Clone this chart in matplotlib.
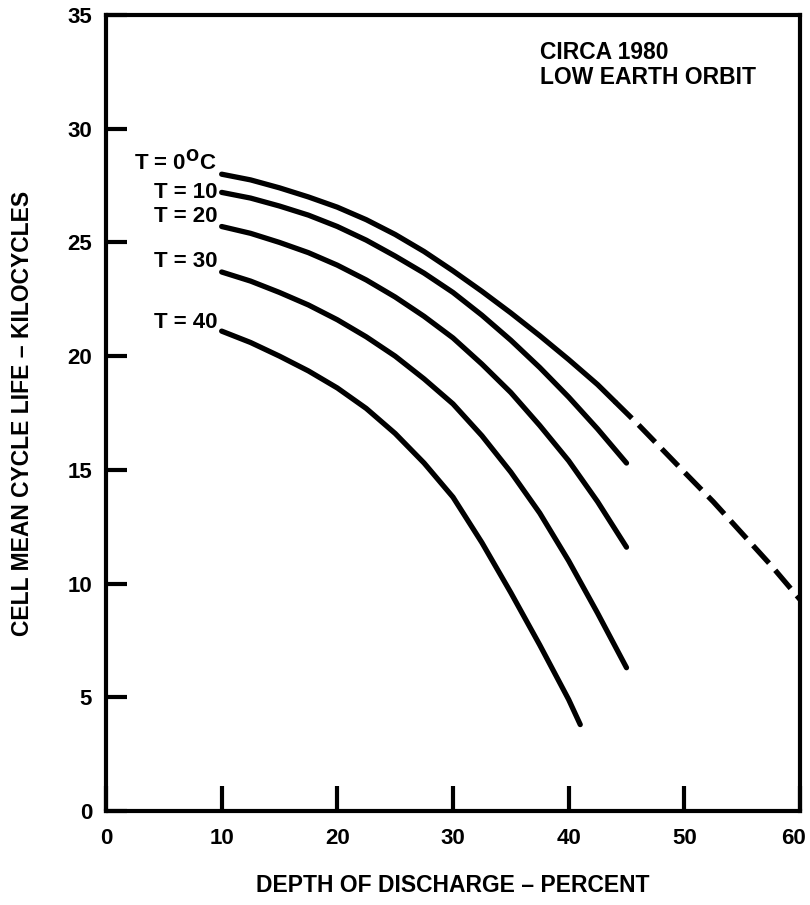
import matplotlib
matplotlib.use("Agg")
import matplotlib.pyplot as plt
import matplotlib.transforms as mtransforms

plt.rcParams["font.family"] = ["Liberation Sans", "DejaVu Sans"]
plt.rcParams["font.weight"] = "bold"

# values
dod = [10, 12.5, 15, 17.5, 20, 22.5, 25, 27.5, 30, 32.5, 35, 37.5, 40, 42.5, 45]

dod_0 = dod[:-1] + [44]
life_0 = [28.0, 27.75, 27.4, 27.0, 26.55, 26.0, 25.35, 24.6, 23.75, 22.85,
          21.9, 20.9, 19.85, 18.75, 18.0]
# extrapolated part, drawn dashed
dod_0_ext = [44, 46, 48, 50, 52.5, 55, 57.5, 60]
life_0_ext = [18.0, 17.0, 15.95, 14.9, 13.6, 12.2, 10.8, 9.3]

life_10 = [27.2, 26.95, 26.6, 26.2, 25.7, 25.1, 24.4, 23.65, 22.8, 21.8,
           20.7, 19.5, 18.2, 16.8, 15.3]
life_20 = [25.7, 25.4, 25.0, 24.55, 24.0, 23.35, 22.6, 21.75, 20.8, 19.65,
           18.4, 16.95, 15.4, 13.6, 11.6]
life_30 = [23.7, 23.3, 22.8, 22.25, 21.6, 20.85, 20.0, 19.0, 17.9, 16.5,
           14.9, 13.1, 11.0, 8.7, 6.3]

dod_40 = [10, 12.5, 15, 17.5, 20, 22.5, 25, 27.5, 30, 32.5, 35, 37.5, 40, 41]
life_40 = [21.1, 20.6, 20.0, 19.35, 18.6, 17.7, 16.6, 15.3, 13.8, 11.8,
           9.6, 7.3, 4.9, 3.8]

curve_labels = ["T = 0$^{\\mathrm{O}}$C", "T = 10", "T = 20", "T = 30", "T = 40"]
label_y = [28.5, 27.2, 26.15, 24.15, 21.5]

fig = plt.figure(figsize=(8.1, 9.05), dpi=100)
ax = fig.add_axes([106 / 810, 94 / 905, 694 / 810, 796 / 905])

curves = [(dod_0, life_0), (dod, life_10), (dod, life_20),
          (dod, life_30), (dod_40, life_40)]
for xs, ys in curves:
    ax.plot(xs, ys, color="black", lw=3.8, solid_capstyle="round",
            solid_joinstyle="round")
ax.plot(dod_0_ext, life_0_ext, color="black", lw=3.8, dashes=(4.5, 1.8))

for txt, yy in zip(curve_labels, label_y):
    ax.text(9.6, yy, txt, ha="right", va="center", fontsize=16)

ax.text(37.5, 32.8, "CIRCA 1980\nLOW EARTH ORBIT", ha="left", va="center",
        fontsize=16.5, linespacing=1.1)

ax.set_xlim(0, 60)
ax.set_ylim(0, 35)
ax.set_xticks([0, 10, 20, 30, 40, 50, 60])
ax.set_yticks([0, 5, 10, 15, 20, 25, 30, 35])
ax.tick_params(axis="both", direction="in", width=3, labelsize=16, color="black")
ax.tick_params(axis="y", length=15, pad=10)
ax.tick_params(axis="x", length=18, pad=12)
for sp in ax.spines.values():
    sp.set_linewidth(3)

# keep the last x tick label inside the figure
last = ax.get_xticklabels()[-1]
last.set_transform(last.get_transform() +
                   mtransforms.ScaledTranslation(-0.06, 0, fig.dpi_scale_trans))

ax.set_xlabel("DEPTH OF DISCHARGE \u2013 PERCENT", fontsize=16.5,
              fontweight="bold", labelpad=18)
ax.set_ylabel("CELL MEAN CYCLE LIFE \u2013 KILOCYCLES", fontsize=16.5,
              fontweight="bold", labelpad=24)

fig.savefig("out.png", dpi=100)
